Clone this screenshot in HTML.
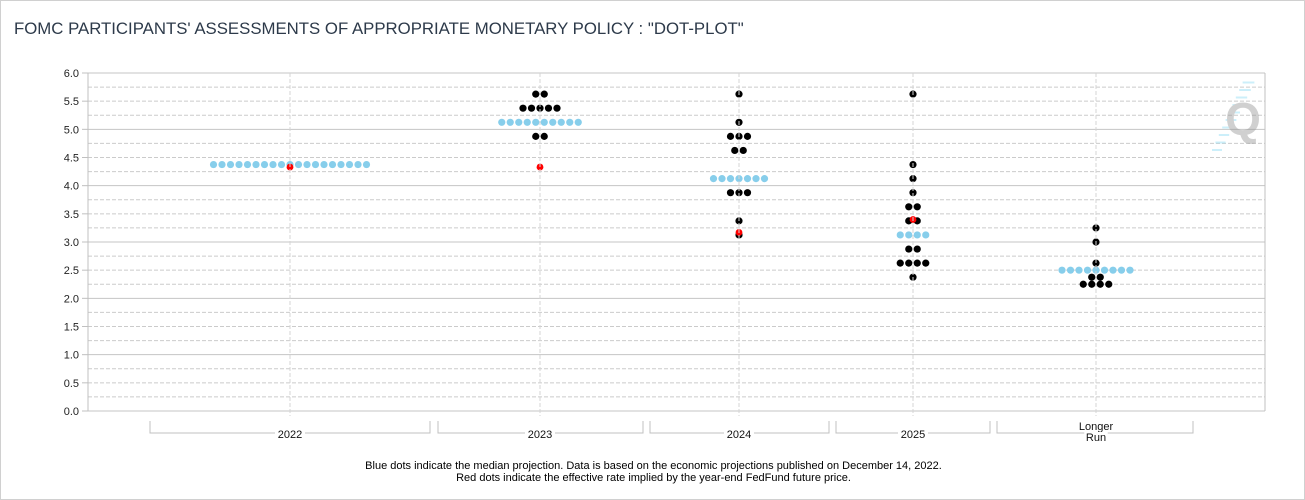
<!DOCTYPE html>
<html><head><meta charset="utf-8"><style>
html,body{margin:0;padding:0;background:#fff;}
#wrap{position:relative;width:1303px;height:498px;border:1px solid #d0d0d0;overflow:hidden;font-family:"Liberation Sans",sans-serif;}
#title{position:absolute;left:13px;top:18px;font-size:16.8px;color:#2d3a4a;letter-spacing:0px;white-space:nowrap;}
#note{position:absolute;left:0;width:1305px;top:459px;text-align:center;font-size:11px;color:#000;line-height:12px;}
</style></head><body>
<div id="wrap">
<div id="title">FOMC PARTICIPANTS' ASSESSMENTS OF APPROPRIATE MONETARY POLICY : "DOT-PLOT"</div>
<svg id="chart" width="1305" height="500" style="position:absolute;left:-1px;top:-1px"></svg>
<div id="note">Blue dots indicate the median projection. Data is based on the economic projections published on December 14, 2022.<br>Red dots indicate the effective rate implied by the year-end FedFund future price.</div>
</div>
<script>
const categories = ["2022","2023","2024","2025","Longer Run"];
// each entry: [rate, count] for participant dots
const dots2022 = [];
const dots2023 = [[5.625,2],[5.375,5],[4.875,2]];
const dots2024 = [[5.625,1],[5.125,1],[4.875,3],[4.625,2],[3.875,3],[3.375,1],[3.125,1]];
const dots2025 = [[5.625,1],[4.375,1],[4.125,1],[3.875,1],[3.625,2],[3.375,2],[2.875,2],[2.625,4],[2.375,1]];
const dotsLR = [[3.25,1],[3.0,1],[2.625,1],[2.375,2],[2.25,4]];
const medianRates = [4.375,5.125,4.125,3.125,2.5];
const medianCounts = [19,10,7,4,9];
const futureRates = [4.33,4.33,3.17,3.4,null];
const yTicks = [0,0.5,1,1.5,2,2.5,3,3.5,4,4.5,5,5.5,6];

const allDots = [dots2022,dots2023,dots2024,dots2025,dotsLR];
const catX = [290,540,739,913,1096];
const brackets = [[150,430],[438,643],[650,829],[836,990],[997,1193]];
const X0=88,X1=1265,Y0=73,Y1=411;
const yS = v => Y1 - (v/6)*(Y1-Y0);
const svg = document.getElementById('chart');
const NS='http://www.w3.org/2000/svg';
function mk(tag,attrs,parent){const e=document.createElementNS(NS,tag);for(const k in attrs)e.setAttribute(k,attrs[k]);(parent||svg).appendChild(e);return e;}

// gridlines
for(let v=0;v<=6.001;v+=0.25){
  const y=yS(v), solid=Math.abs(v-Math.round(v))<1e-6;
  const l=mk('line',{x1:X0,x2:X1,y1:y,y2:y,stroke:solid?'#c4c4c4':'#cbcbcb','stroke-width':1,'stroke-dasharray':solid?'':'4,2'});
  
  
}
// watermark
const wm = mk('g',{opacity:'0.45'});


for(let i=0;i<10;i++){mk('line',{x1:1212+i*3.4,y1:150-i*7.5,x2:1222+i*3.6,y2:150-i*7.5,stroke:'#8fdcf5','stroke-width':2},wm);}
const wq=mk('text',{x:1243,y:135,'font-size':46,'font-weight':'bold','text-anchor':'middle',fill:'#999','font-family':'Liberation Sans, sans-serif'},wm);wq.textContent='Q';

mk('line',{x1:X0,x2:X0,y1:Y0,y2:Y1,stroke:'#c0c0c0'});
mk('line',{x1:X1,x2:X1,y1:Y0,y2:Y1,stroke:'#c0c0c0'});
// y ticks
yTicks.forEach(v=>{
  const y=yS(v);
  mk('line',{x1:X0-6,x2:X0,y1:y,y2:y,stroke:'#c0c0c0'});
  const t=mk('text',{x:X0-9,y:y+4,'font-size':11,'text-anchor':'end',fill:'#222','font-family':'Liberation Sans, sans-serif'});
  t.textContent=v.toFixed(1);
  
  
});
// x brackets & labels
categories.forEach((c,i)=>{
  const [a,b]=brackets[i];
  const p=mk('path',{d:`M${a},421V433H${b}V421`,fill:'none',stroke:'#c0c0c0'});
  
  
  const parts=c==='Longer Run'?['Longer','Run']:[c];
  parts.forEach((s,j)=>{
    const ty = parts.length>1 ? 430+j*11 : 438;
    const w=s.length*6.5+4;
    mk('rect',{x:catX[i]-w/2,y:ty-9,width:w,height:11,fill:'#fff'});
    const t=mk('text',{x:catX[i],y:ty,'font-size':11,'text-anchor':'middle',fill:'#111','font-family':'Liberation Sans, sans-serif'});
    t.textContent=s;
    
    
  });
});
const SP=8.5;
function row(cx,v,n,color,name){
  for(let k=0;k<n;k++){
    const x=cx+(k-(n-1)/2)*SP;
    const d=mk('circle',{cx:x,cy:yS(v),r:3.6,fill:color});
    
    
  }
}
allDots.forEach((arr,i)=>{
  row(catX[i],medianRates[i],medianCounts[i],'#87ceeb','median-dot');
  arr.forEach(([v,n])=>row(catX[i],v,n,'#000','participant-dot'));
  if(futureRates[i]!==null){
    const d=mk('circle',{cx:catX[i],cy:yS(futureRates[i]),r:3.4,fill:'#f00'});
    
    
  }
});
// category gridlines drawn over the dots
catX.forEach(x=>{const l=mk('line',{x1:x,x2:x,y1:Y0,y2:Y1+5,stroke:'#d4d4d4','stroke-dasharray':'4,2'});
  
  });
</script>
</body></html>
